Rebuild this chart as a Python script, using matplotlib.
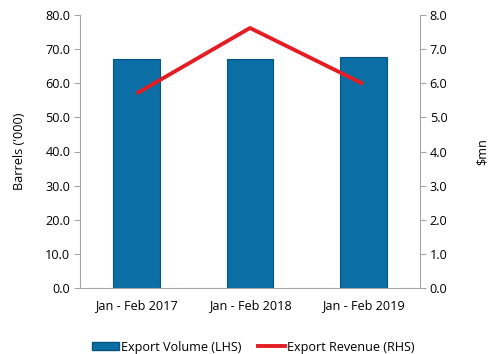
import matplotlib
matplotlib.use("Agg")
import matplotlib.pyplot as plt
from matplotlib.patches import Patch
from matplotlib.lines import Line2D

categories = ["Jan - Feb 2017", "Jan - Feb 2018", "Jan - Feb 2019"]
export_volume = [67.1, 67.1, 67.7]
export_revenue = [5.7, 7.62, 5.98]
left_ticks = [0, 10, 20, 30, 40, 50, 60, 70, 80]
right_ticks = [0, 1, 2, 3, 4, 5, 6, 7, 8]

plt.rcParams['font.family'] = ['Open Sans', 'DejaVu Sans']
fs = 9.1
gray = '#a6a6a6'

fig = plt.figure(figsize=(4.88, 3.54), dpi=100)
ax = fig.add_axes([80/488, 1-288/354, 340/488, 273/354])
x = list(range(len(categories)))
bar_color = '#0b6ea5'
ax.bar(x, export_volume, width=0.41, color=bar_color, edgecolor='#08547e', linewidth=0.8, zorder=2)
ax.set_xlim(-0.5, 2.5)
ax.set_ylim(0, 80)
ax.set_yticks(left_ticks)
ax.set_yticklabels([f"{v:.1f}" for v in left_ticks], fontsize=fs)
ax.set_xticks(x)
ax.set_xticklabels(categories, fontsize=fs)
ax.set_ylabel("Barrels ('000)", fontsize=fs, labelpad=14)
for s in ['top', 'right']:
    ax.spines[s].set_visible(False)
for s in ['left', 'bottom']:
    ax.spines[s].set_color(gray)
ax.tick_params(axis='y', colors=gray, labelcolor='black', length=4, pad=3)
ax.tick_params(axis='x', length=0, pad=8)

ax2 = ax.twinx()
ax2.plot(x, export_revenue, color='#e31e24', lw=2.8, solid_capstyle='butt', zorder=3)
ax2.set_ylim(0, 8)
ax2.set_yticks(right_ticks)
ax2.set_yticklabels([f"{v:.1f}" for v in right_ticks], fontsize=fs)
ax2.set_ylabel("$mn", fontsize=fs, labelpad=20, rotation=90)
for s in ['top', 'left', 'bottom']:
    ax2.spines[s].set_visible(False)
ax2.spines['right'].set_color(gray)
ax2.tick_params(axis='y', colors=gray, labelcolor='black', length=4, pad=3)

handles = [Patch(facecolor=bar_color, edgecolor='#08547e'),
           Line2D([0], [0], color='#e31e24', lw=2.8)]
fig.legend(handles, ["Export Volume (LHS)", "Export Revenue (RHS)"],
           loc='center', bbox_to_anchor=(253/488, 1-347/354), ncol=2, frameon=False,
           fontsize=fs, handlelength=2.2, handleheight=0.5, handletextpad=0.1, columnspacing=1.3)

fig.savefig("out.png", dpi=100)
